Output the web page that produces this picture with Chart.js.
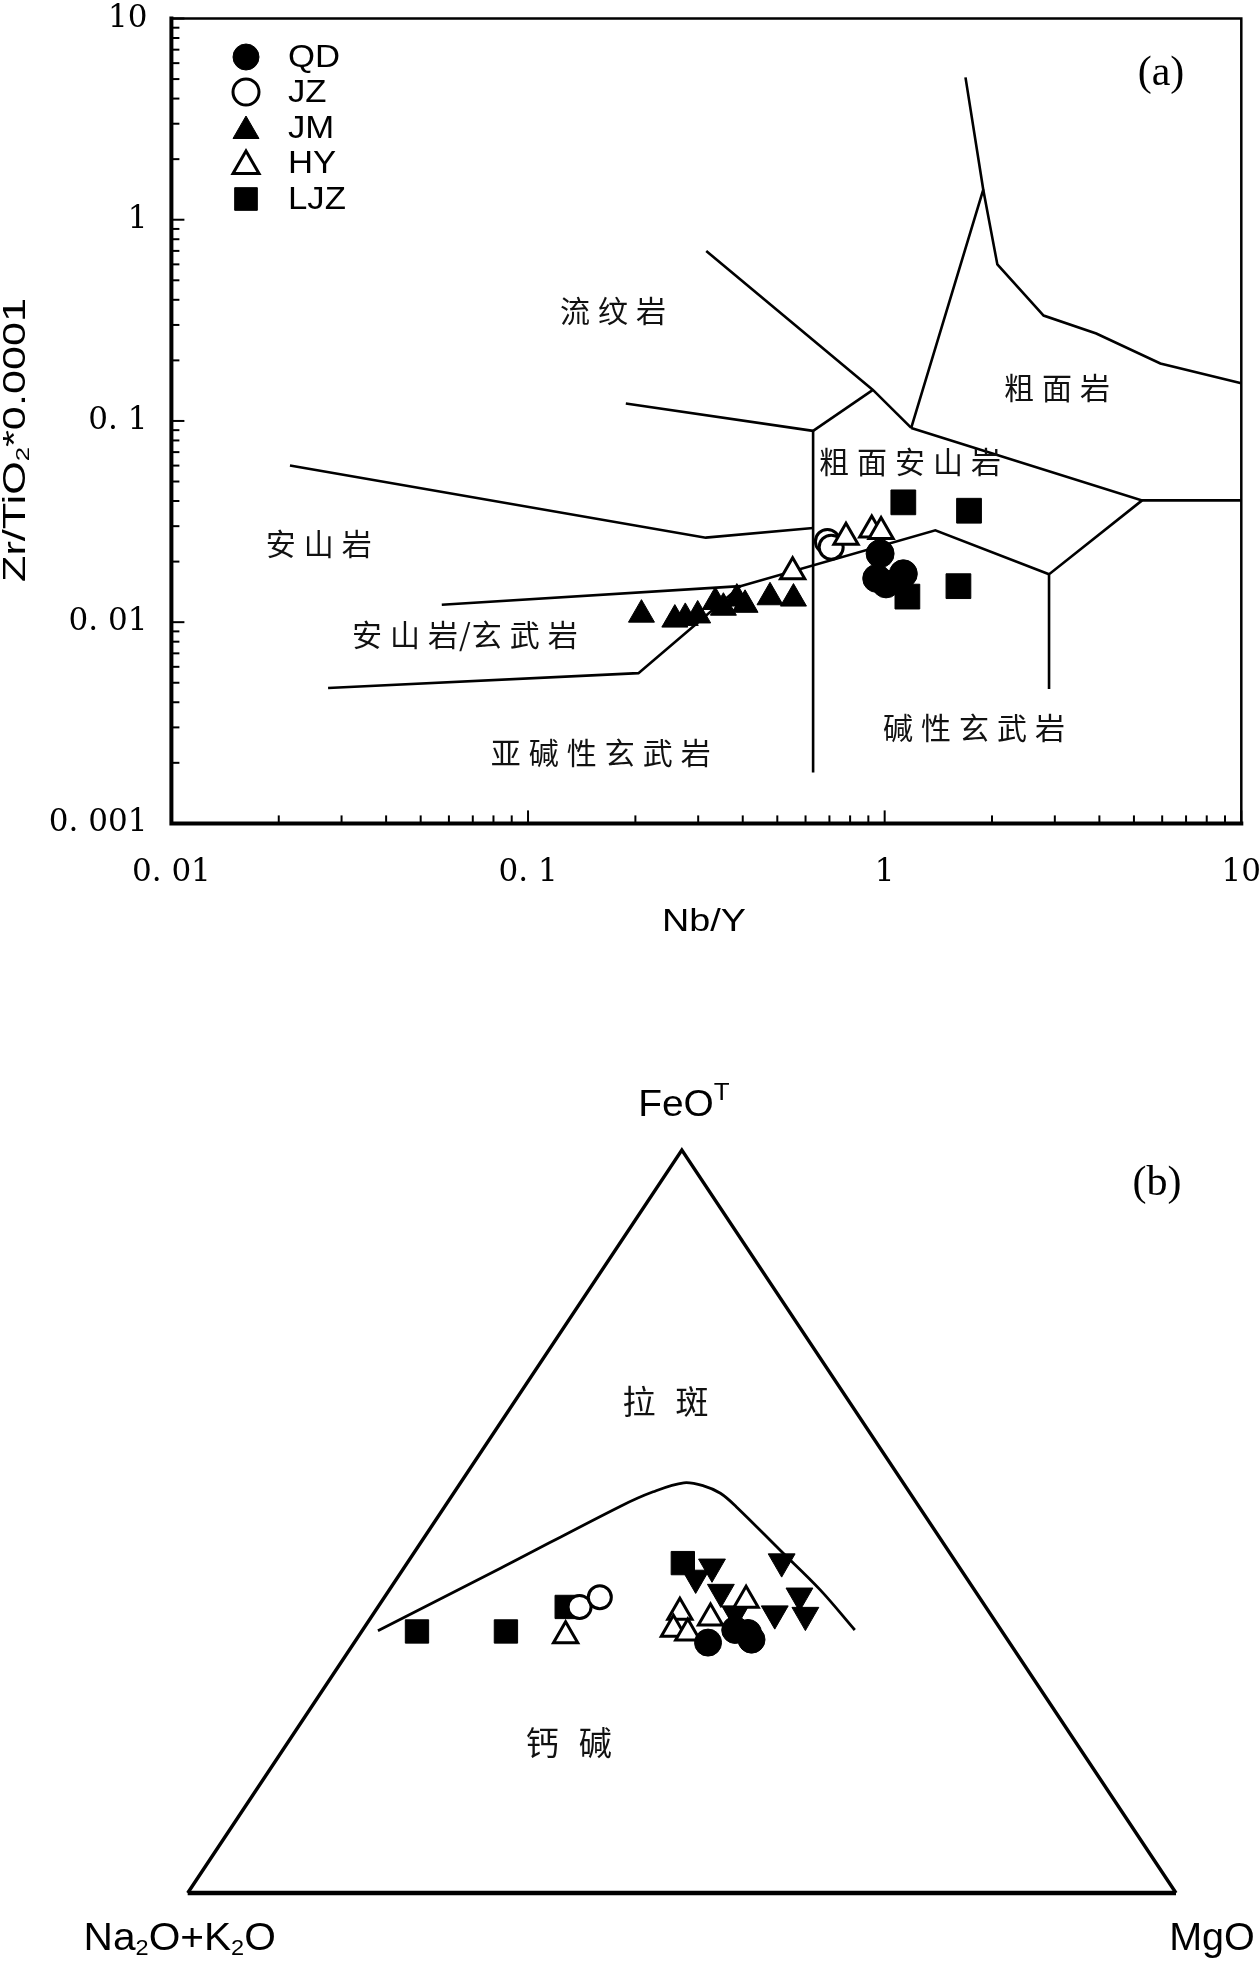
<!DOCTYPE html>
<html lang="zh">
<head>
<meta charset="utf-8">
<title>Nb/Y – Zr/TiO2 and AFM diagrams</title>
<script src="https://cdn.jsdelivr.net/npm/chart.js@4.4.0/dist/chart.umd.min.js"></script>
<style>
  html, body { margin: 0; padding: 0; background: #fff; }
  #page { position: relative; width: 1260px; height: 1961px; overflow: hidden; background: #fff; }
  .box { position: absolute; left: 0; width: 1260px; }
</style>
</head>
<body>
<div id="page">
  <div class="box" style="top:0;height:960px"><canvas id="chartA" width="1260" height="960"></canvas></div>
  <div class="box" style="top:960px;height:1001px"><canvas id="chartB" width="1260" height="1001"></canvas></div>
</div>
<script>
// ---------------- DATA : diagram (a) Nb/Y vs Zr/TiO2*0.0001 ----------------
const xTicks = [0.01, 0.1, 1, 10];
const xTickLabels = ['0. 01', '0. 1', '1', '10'];
const yTicks = [0.001, 0.01, 0.1, 1, 10];
const yTickLabels = ['0. 001', '0. 01', '0. 1', '1', '10'];
const seriesNames = ['QD', 'JZ', 'JM', 'HY', 'LJZ'];

const nbY_QD  = [0.971, 0.950, 1.009, 1.128];
const zr_QD   = [0.0219, 0.0165, 0.0155, 0.0174];
const nbY_JZ  = [0.691, 0.708];
const zr_JZ   = [0.0252, 0.0236];
const nbY_JM  = [0.208, 0.258, 0.276, 0.299, 0.335, 0.353, 0.385, 0.406, 0.477, 0.555];
const zr_JM   = [0.0109, 0.0103, 0.0105, 0.0108, 0.0126, 0.0118, 0.0131, 0.0122, 0.0133, 0.0131];
const nbY_HY  = [0.552, 0.779, 0.920, 0.977];
const zr_HY   = [0.0178, 0.0264, 0.0287, 0.0282];
const nbY_LJZ = [1.128, 1.724, 1.610, 1.158];
const zr_LJZ  = [0.0394, 0.0358, 0.0151, 0.0134];

// field boundaries (Nb/Y, Zr/TiO2*0.0001)
const fieldLine1  = [[0.0215, 0.060], [0.315, 0.0263], [0.63, 0.0294]];
const fieldLine2  = [[0.188, 0.122], [0.63, 0.0893]];
const fieldLine3  = [[0.63, 0.0893], [0.63, 0.00179]];
const fieldLine4  = [[0.63, 0.0893], [0.927, 0.1426]];
const fieldLine5  = [[0.316, 0.70], [0.927, 0.1426], [1.187, 0.0923]];
const fieldLine6  = [[1.187, 0.0923], [1.89, 1.41], [1.685, 5.1]];
const fieldLine7  = [[1.89, 1.41], [2.07, 0.60], [2.79, 0.334], [3.92, 0.272], [5.93, 0.193], [10, 0.154]];
const fieldLine8  = [[1.187, 0.0923], [5.27, 0.0403], [10, 0.0403]];
const fieldLine9  = [[5.27, 0.0403], [2.89, 0.0173], [2.89, 0.00466]];
const fieldLine10 = [[0.0573, 0.0122], [0.394, 0.0151], [1.387, 0.0286], [2.89, 0.0173]];
const fieldLine11 = [[0.0275, 0.00471], [0.204, 0.00558], [0.394, 0.0151]];

const fieldNames = ['流纹岩', '粗面岩', '粗面安山岩', '安山岩', '安山岩/玄武岩', '亚碱性玄武岩', '碱性玄武岩'];
const fieldNameX = [0.173, 3.04, 1.178, 0.0259, 0.0665, 0.160, 1.781];
const fieldNameY = [0.352, 0.147, 0.0627, 0.0247, 0.00869, 0.00225, 0.00299];

// ---------------- DATA : diagram (b) AFM ternary [A, F, M] ----------------
const afm_QD    = [[30.5, 33.7, 35.8], [26.9, 35.4, 37.7], [25.8, 35.0, 39.2], [25.9, 34.1, 40.0]];
const afm_JZ    = [[41.1, 38.5, 20.4], [38.4, 39.8, 21.8]];
const afm_HY    = [[44.4, 34.6, 20.9], [23.8, 39.4, 36.8], [31.3, 37.8, 30.9], [28.6, 37.0, 34.4], [33.1, 35.5, 31.4], [31.9, 35.0, 33.1]];
const afm_LJZ   = [[59.2, 35.2, 5.6], [50.2, 35.2, 14.6], [42.4, 38.5, 19.1], [27.7, 44.4, 27.9]];
const afm_other = [[25.0, 43.9, 31.1], [27.4, 42.4, 30.2], [25.8, 40.5, 33.7], [17.6, 44.6, 37.8], [18.1, 40.0, 41.9], [21.8, 37.6, 40.6], [18.8, 37.4, 43.8], [25.8, 37.6, 36.6]];
const afm_curve = [[63.1, 35.3, 1.6], [46.5, 43.7, 9.8], [30.3, 52.0, 17.7], [25.9, 54.0, 20.1], [22.2, 55.2, 22.6], [20.4, 54.8, 24.8], [19.2, 53.8, 27.0], [18.5, 52.0, 29.5], [17.0, 46.2, 36.8], [15.6, 40.8, 43.6], [14.8, 35.4, 49.8]];
const afm_vertices = [[100, 0, 0], [0, 100, 0], [0, 0, 100]];
const afmFieldNames = ['拉斑', '钙碱'];
const afmFieldPos = [[18.6, 66.1, 15.3], [51.3, 20.3, 28.4]];

// ---------------- helpers ----------------
const BLACK = '#000';
const SANS = '"Liberation Sans", Arial, sans-serif';
const SERIF = '"Liberation Serif", "Times New Roman", serif';
const TICKSERIF = '"DejaVu Serif", "Liberation Serif", serif';
const CJK = '"Noto Sans CJK SC", "Noto Sans CJK JP", sans-serif';

const pts = (xs, ys) => xs.map((x, i) => ({ x, y: ys[i] }));
const pairs = arr => arr.map(p => ({ x: p[0], y: p[1] }));
const toXY = ([a, f, m]) => { const s = a + f + m; return { x: (m + f / 2) / s, y: f / s }; };

function lineSet(data, width) {
  return { data, showLine: true, borderColor: BLACK, borderWidth: width || 2.6, pointRadius: 0,
           pointHoverRadius: 0, fill: false, tension: 0, clip: false, order: 10 };
}

function drawRich(ctx, parts, cx, cy, opts) {
  opts = opts || {};
  ctx.save();
  ctx.translate(cx, cy);
  if (opts.rot) ctx.rotate(opts.rot);
  ctx.scale(opts.sx || 1, 1);
  ctx.fillStyle = opts.color || BLACK;
  ctx.textBaseline = 'middle';
  ctx.textAlign = 'left';
  let total = 0;
  parts.forEach(p => { ctx.font = p.font; total += ctx.measureText(p.t).width; });
  let x = opts.align === 'left' ? 0 : -total / 2;
  parts.forEach(p => { ctx.font = p.font; ctx.fillText(p.t, x, p.dy || 0); x += ctx.measureText(p.t).width; });
  ctx.restore();
}

function drawSpaced(ctx, text, cx, cy, font, spacing) {
  ctx.save();
  ctx.font = font; ctx.textBaseline = 'middle'; ctx.textAlign = 'left'; ctx.fillStyle = '#111';
  const chars = [...text];
  const widths = chars.map(c => ctx.measureText(c).width);
  const gaps = chars.map((c, i) => (i === chars.length - 1) ? 0 : ((c === '/' || chars[i + 1] === '/') ? 1 : spacing));
  const total = widths.reduce((a, b) => a + b, 0) + gaps.reduce((a, b) => a + b, 0);
  let x = cx - total / 2;
  chars.forEach((c, i) => { ctx.fillText(c, x, cy); x += widths[i] + gaps[i]; });
  ctx.restore();
}

// marker styles per series
const markerA = {
  QD:  { pointStyle: 'circle',   pointRadius: 14,   pointBackgroundColor: BLACK, pointBorderColor: BLACK, pointBorderWidth: 1 },
  JZ:  { pointStyle: 'circle',   pointRadius: 12,   pointBackgroundColor: '#fff', pointBorderColor: BLACK, pointBorderWidth: 3 },
  JM:  { pointStyle: 'triangle', pointRadius: 15,   pointBackgroundColor: BLACK, pointBorderColor: BLACK, pointBorderWidth: 1 },
  HY:  { pointStyle: 'triangle', pointRadius: 14,   pointBackgroundColor: '#fff', pointBorderColor: BLACK, pointBorderWidth: 3 },
  LJZ: { pointStyle: 'rect',     pointRadius: 17.5, pointBackgroundColor: BLACK, pointBorderColor: BLACK, pointBorderWidth: 1 }
};

// ---------------- chart (a) ----------------
const frameA = {
  id: 'frameA',
  afterDraw(chart) {
    const { ctx, chartArea: a, scales: { x, y } } = chart;
    ctx.save();
    ctx.strokeStyle = BLACK;
    ctx.lineCap = 'square';
    ctx.lineWidth = 2.5;
    ctx.beginPath(); ctx.moveTo(a.left, a.top); ctx.lineTo(a.right, a.top); ctx.lineTo(a.right, a.bottom); ctx.stroke();
    ctx.lineWidth = 4;
    ctx.beginPath(); ctx.moveTo(a.left, a.top); ctx.lineTo(a.left, a.bottom); ctx.lineTo(a.right, a.bottom); ctx.stroke();
    // inside log ticks
    ctx.lineWidth = 2;
    ctx.lineCap = 'butt';
    for (let d = -3; d <= 1; d++) {
      for (let k = 1; k <= 9; k++) {
        const v = k * Math.pow(10, d);
        const len = k === 1 ? 13 : 8;
        if (v >= 0.01 - 1e-12 && v <= 10 + 1e-9) {
          const px = x.getPixelForValue(v);
          ctx.beginPath(); ctx.moveTo(px, a.bottom); ctx.lineTo(px, a.bottom - len); ctx.stroke();
        }
        if (v >= 0.001 - 1e-12 && v <= 10 + 1e-9) {
          const py = y.getPixelForValue(v);
          ctx.beginPath(); ctx.moveTo(a.left, py); ctx.lineTo(a.left + len, py); ctx.stroke();
        }
      }
    }
    // field names
    fieldNames.forEach((t, i) => {
      drawSpaced(ctx, t, x.getPixelForValue(fieldNameX[i]), y.getPixelForValue(fieldNameY[i]), '30px ' + CJK, 8);
    });
    // legend
    const legY = [57, 92, 128, 163, 199];
    seriesNames.forEach((n, i) => {
      const m = markerA[n];
      ctx.save();
      ctx.fillStyle = m.pointBackgroundColor;
      ctx.strokeStyle = m.pointBorderColor;
      ctx.lineWidth = m.pointBorderWidth;
      const dy = m.pointStyle === 'triangle' ? 3 : 0;
      const r = m.pointStyle === 'rect' ? 16 : (m.pointStyle === 'triangle' ? 15 : 13);
      Chart.helpers.drawPoint(ctx, { pointStyle: m.pointStyle, radius: r, rotation: 0, borderWidth: m.pointBorderWidth }, 246, legY[i] + dy);
      ctx.restore();
      drawRich(ctx, [{ t: n, font: '31px ' + SANS }], 288, legY[i] + 1, { sx: 1.12, align: 'left' });
    });
    // panel tag
    drawRich(ctx, [{ t: '(a)', font: '42px ' + SERIF }], 1161, 74);
    // axis titles
    drawRich(ctx, [{ t: 'Nb/Y', font: '32px ' + SANS }], 704, 922, { sx: 1.18 });
    drawRich(ctx, [
      { t: 'Zr/TiO', font: '32px ' + SANS },
      { t: '2', font: '19px ' + SANS, dy: 8 },
      { t: '*0.0001', font: '32px ' + SANS }
    ], 16, 440, { rot: -Math.PI / 2, sx: 1.35 });
    ctx.restore();
  }
};

const datasetsA = [
  Object.assign({ label: 'HY',  data: pts(nbY_HY, zr_HY),   clip: false, order: 1 }, markerA.HY),
  Object.assign({ label: 'JZ',  data: pts(nbY_JZ, zr_JZ),   clip: false, order: 2 }, markerA.JZ),
  Object.assign({ label: 'QD',  data: pts(nbY_QD, zr_QD),   clip: false, order: 3 }, markerA.QD),
  Object.assign({ label: 'LJZ', data: pts(nbY_LJZ, zr_LJZ), clip: false, order: 4 }, markerA.LJZ),
  Object.assign({ label: 'JM',  data: pts(nbY_JM, zr_JM),   clip: false, order: 5 }, markerA.JM),
  ...[fieldLine1, fieldLine2, fieldLine3, fieldLine4, fieldLine5, fieldLine6, fieldLine7,
      fieldLine8, fieldLine9, fieldLine10, fieldLine11].map(l => lineSet(pairs(l), 2.6))
];

new Chart(document.getElementById('chartA'), {
  type: 'scatter',
  data: { datasets: datasetsA },
  options: {
    responsive: false,
    animation: false,
    events: [],
    layout: { padding: { top: 12.5, right: 18.7, left: 0, bottom: 0 } },
    plugins: { legend: { display: false }, tooltip: { enabled: false } },
    scales: {
      x: {
        type: 'logarithmic', min: 0.01, max: 10, position: 'bottom',
        afterBuildTicks: s => { s.ticks = xTicks.map(v => ({ value: v })); },
        afterFit: s => { s.height = 136.6; s.paddingLeft = 0; s.paddingRight = 0; },
        ticks: { callback: (v, i) => xTickLabels[i], font: { family: TICKSERIF, size: 31 }, color: BLACK,
                 padding: 31, autoSkip: false, maxRotation: 0, minRotation: 0 },
        grid: { display: false, drawTicks: false }, border: { display: false }
      },
      y: {
        type: 'logarithmic', min: 0.001, max: 10, position: 'left',
        afterBuildTicks: s => { s.ticks = yTicks.map(v => ({ value: v })); },
        afterFit: s => { s.width = 171.4; s.paddingTop = 0; s.paddingBottom = 0; },
        ticks: { callback: (v, i) => yTickLabels[i], font: { family: TICKSERIF, size: 31 }, color: BLACK,
                 padding: 24, autoSkip: false },
        grid: { display: false, drawTicks: false }, border: { display: false }
      }
    }
  },
  plugins: [frameA]
});

// ---------------- chart (b) ----------------
const markerB = {
  QD:    { pointStyle: 'circle',   pointRadius: 13.5, pointBackgroundColor: BLACK, pointBorderColor: BLACK, pointBorderWidth: 1 },
  HY:    { pointStyle: 'triangle', pointRadius: 14,   pointBackgroundColor: '#fff', pointBorderColor: BLACK, pointBorderWidth: 3 },
  JZ:    { pointStyle: 'circle',   pointRadius: 11.5, pointBackgroundColor: '#fff', pointBorderColor: BLACK, pointBorderWidth: 3 },
  LJZ:   { pointStyle: 'rect',     pointRadius: 16.5, pointBackgroundColor: BLACK, pointBorderColor: BLACK, pointBorderWidth: 1 },
  other: { pointStyle: 'triangle', pointRadius: 15.5, pointRotation: 180, pointBackgroundColor: BLACK, pointBorderColor: BLACK, pointBorderWidth: 1 }
};

const textB = {
  id: 'textB',
  afterDraw(chart) {
    const { ctx, scales: { x, y } } = chart;
    const P = v => { const q = toXY(v); return [x.getPixelForValue(q.x), y.getPixelForValue(q.y)]; };
    const [ax, ay] = P(afm_vertices[1]);
    const [lx, ly] = P(afm_vertices[0]);
    const [rx, ry] = P(afm_vertices[2]);
    drawRich(ctx, [{ t: 'FeO', font: '36px ' + SANS }, { t: 'T', font: '24px ' + SANS, dy: -13 }], ax + 2, ay - 44, { sx: 1.08 });
    drawRich(ctx, [
      { t: 'Na', font: '38px ' + SANS }, { t: '2', font: '22px ' + SANS, dy: 9 },
      { t: 'O+K', font: '38px ' + SANS }, { t: '2', font: '22px ' + SANS, dy: 9 },
      { t: 'O', font: '38px ' + SANS }
    ], lx - 8, ly + 47, { sx: 1.07 });
    drawRich(ctx, [{ t: 'MgO', font: '38px ' + SANS }], rx + 36, ry + 47, { sx: 1.04 });
    drawRich(ctx, [{ t: '(b)', font: '42px ' + SERIF }], 1157, 224);
    afmFieldNames.forEach((t, i) => {
      const [px, py] = P(afmFieldPos[i]);
      drawSpaced(ctx, t, px, py, '33px ' + CJK, 20);
    });
  }
};

const datasetsB = [
  Object.assign({ data: afm_QD.map(toXY),    clip: false }, markerB.QD),
  Object.assign({ data: afm_HY.map(toXY),    clip: false }, markerB.HY),
  Object.assign({ data: afm_JZ.map(toXY),    clip: false }, markerB.JZ),
  Object.assign({ data: afm_LJZ.map(toXY),   clip: false }, markerB.LJZ),
  Object.assign({ data: afm_other.map(toXY), clip: false }, markerB.other),
  Object.assign(lineSet(afm_curve.map(toXY), 2.8), { tension: 0.35 }),
  lineSet([afm_vertices[0], afm_vertices[1], afm_vertices[2]].map(toXY), 3.4),
  lineSet([afm_vertices[0], afm_vertices[2]].map(toXY), 4.5)
];

new Chart(document.getElementById('chartB'), {
  type: 'scatter',
  data: { datasets: datasetsB },
  options: {
    responsive: false,
    animation: false,
    events: [],
    layout: { padding: { left: 187.7, right: 84, top: 190, bottom: 68 } },
    plugins: { legend: { display: false }, tooltip: { enabled: false } },
    scales: {
      x: { type: 'linear', min: 0, max: 1, display: false },
      y: { type: 'linear', min: 0, max: 1, display: false }
    }
  },
  plugins: [textB]
});
</script>
</body>
</html>
